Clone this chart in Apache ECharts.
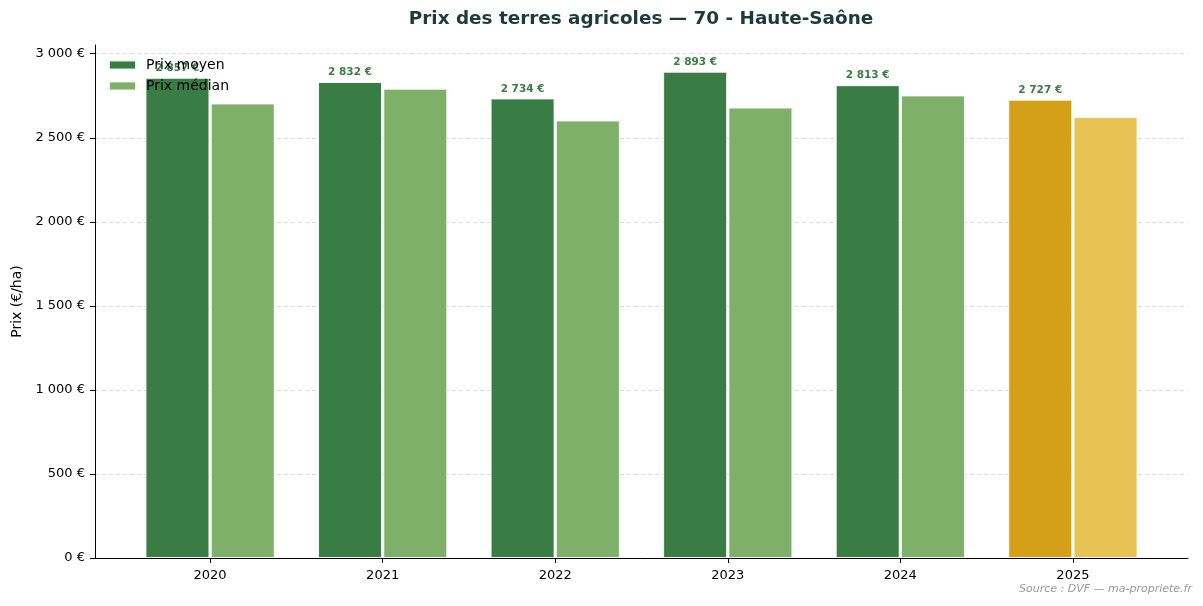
<!DOCTYPE html>
<html>
<head>
<meta charset="utf-8">
<script src="https://cdn.jsdelivr.net/npm/echarts@6/dist/echarts.min.js"></script>
<style>
html,body{margin:0;padding:0;background:#fff;}
#chart{width:1203px;height:606px;}
</style>
</head>
<body>
<div id="chart"></div>
<script>
const years = ['2020', '2021', '2022', '2023', '2024', '2025'];
const prixMoyen = [2857, 2832, 2734, 2893, 2813, 2727];
const prixMedian = [2704, 2792, 2603, 2680, 2752, 2624];
const yTicks = [0, 500, 1000, 1500, 2000, 2500, 3000];
const highlightIndex = 5;

const fmt = v => String(Math.round(v)).replace(/\B(?=(\d{3})+(?!\d))/g, ' ') + ' €';

const C_MOY = '#3a7d44', C_MED = '#7fb069', C_MOY_HL = '#d4a017', C_MED_HL = '#e8c252';

const chart = echarts.init(document.getElementById('chart'), null, {renderer: 'canvas'});
const xIdx = years.map((_, i) => i);

chart.setOption({
  backgroundColor: '#ffffff',
  animation: false,
  textStyle: {fontFamily: 'DejaVu Sans'},
  legend: {
    orient: 'vertical', left: 108, top: 58, padding: 0, itemWidth: 27, itemHeight: 9, itemGap: 7,
    icon: 'rect',
    textStyle: {fontFamily: 'DejaVu Sans', fontSize: 14, color: '#000', padding: [0, 0, 0, 5]},
    data: ['Prix moyen', 'Prix médian']
  },
  grid: {left: 95, right: 15, top: 45, bottom: 48, containLabel: false},
  xAxis: {
    type: 'value', min: -0.667, max: 5.667,
    axisLine: {show: true, onZero: false, lineStyle: {color: '#000', width: 1}},
    axisTick: {show: true, customValues: xIdx, length: 5, lineStyle: {color: '#000'}},
    axisLabel: {customValues: xIdx, formatter: v => years[Math.round(v)] || '', fontSize: 13, color: '#000', margin: 11, fontFamily: 'DejaVu Sans'},
    splitLine: {show: false}
  },
  yAxis: {
    type: 'value', min: 0, max: 3052,
    name: 'Prix (€/ha)', nameLocation: 'middle', nameGap: 70, nameRotate: 90,
    nameTextStyle: {fontFamily: 'DejaVu Sans', fontSize: 14, color: '#000'},
    axisLine: {show: true, onZero: false, lineStyle: {color: '#000', width: 1}},
    axisTick: {show: true, customValues: yTicks, length: 5, lineStyle: {color: '#000'}},
    axisLabel: {customValues: yTicks, formatter: v => fmt(v), fontSize: 13, color: '#000', margin: 10, fontFamily: 'DejaVu Sans'},
    splitLine: {show: true, lineStyle: {color: '#dddddd', type: [4, 3], width: 1}}
  },
  graphic: [{
    type: 'text', x: 641, y: 19,
    style: {text: 'Prix des terres agricoles — 70 - Haute-Saône', fontFamily: 'DejaVu Sans', fontSize: 18.4, fontWeight: 'bold',
      fill: '#1d3b3a', textAlign: 'center', textVerticalAlign: 'middle'}
  }, {
    type: 'text', right: 11, top: 584,
    style: {text: 'Source : DVF — ma-propriete.fr', fontFamily: 'DejaVu Sans', fontSize: 11, fontStyle: 'italic', fill: '#999999'}
  }],
  series: [
    {
      name: 'Prix moyen', type: 'bar', barWidth: 64, barGap: '2%',
      itemStyle: {color: C_MOY, borderColor: 'rgba(255,255,255,0.85)', borderWidth: 1},
      label: {show: true, position: 'top', distance: 4, formatter: p => fmt(p.value[1]),
        fontFamily: 'DejaVu Sans', fontSize: 10.5, fontWeight: 'bold', color: C_MOY},
      data: prixMoyen.map((v, i) => ({value: [i, v], itemStyle: i === highlightIndex ? {color: C_MOY_HL} : undefined}))
    },
    {
      name: 'Prix médian', type: 'bar', barWidth: 64, barGap: '2%',
      itemStyle: {color: C_MED, borderColor: 'rgba(255,255,255,0.85)', borderWidth: 1},
      data: prixMedian.map((v, i) => ({value: [i, v], itemStyle: i === highlightIndex ? {color: C_MED_HL} : undefined}))
    }
  ]
});
</script>
</body>
</html>
